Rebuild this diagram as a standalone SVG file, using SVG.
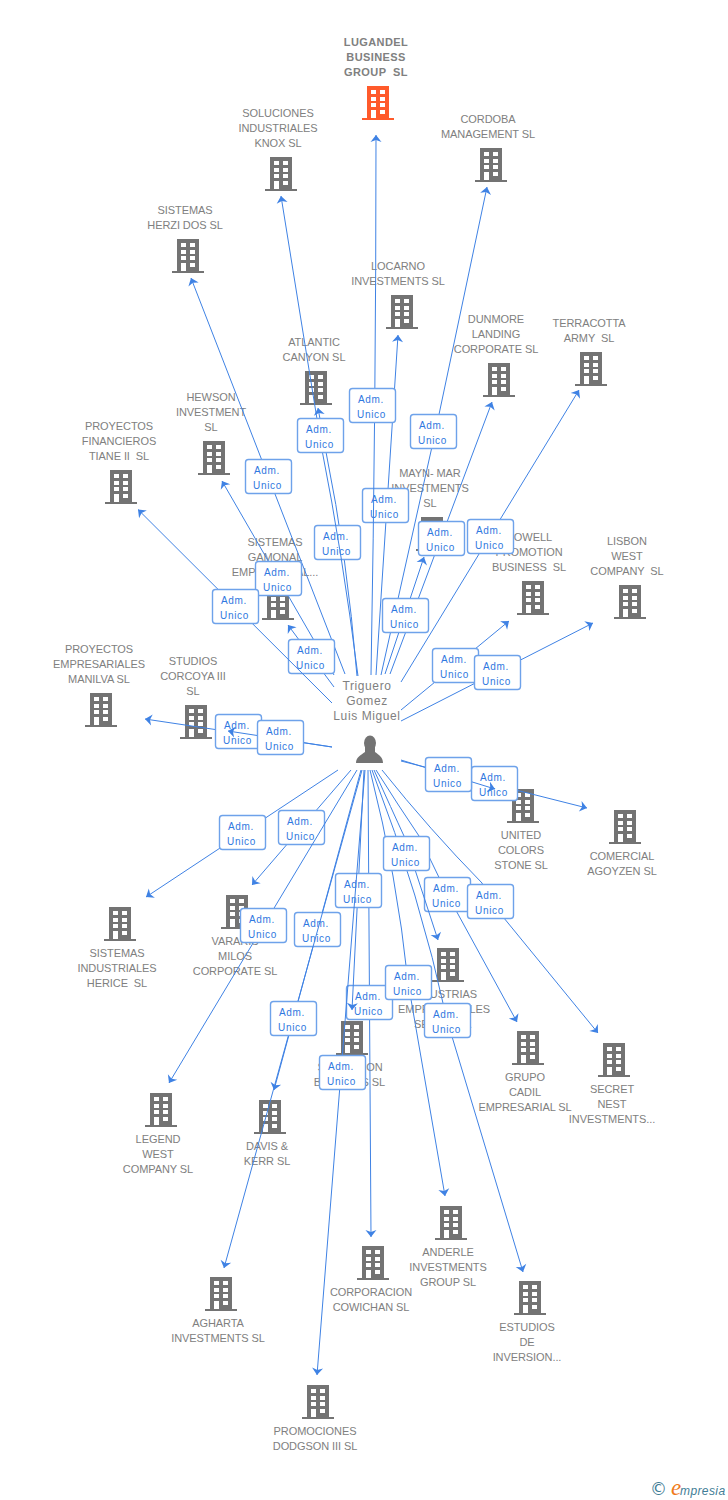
<svg xmlns="http://www.w3.org/2000/svg" width="728" height="1500" viewBox="0 0 728 1500">
<style>
text{font-family:"Liberation Sans",Arial,sans-serif;white-space:pre}
.n{font-size:11px;fill:#808080;text-anchor:middle;letter-spacing:-.08px}
.r{font-size:11px;font-weight:bold;fill:#808080;text-anchor:middle;letter-spacing:.4px}
.p{font-size:12px;fill:#808080;text-anchor:middle;letter-spacing:.6px}
.l{stroke:#3f82e4;stroke-width:1;fill:none;marker-end:url(#a)}
.lr{fill:#fff;stroke:#6ea2ea;stroke-width:1.4}
.lt{font-size:10px;fill:#2f78e0;text-anchor:middle;letter-spacing:.7px}
</style>
<defs>
<marker id="a" markerUnits="userSpaceOnUse" markerWidth="14" markerHeight="14" refX="9" refY="6.5" orient="auto" overflow="visible"><path d="M9 6.500 L2 1 L4 6.500 L2 12Z" fill="#3f82e4"/></marker>
<symbol id="b" overflow="visible"><path fill-rule="evenodd" d="M-11-17H11V15H16V17H-16V15H-11ZM-7-13V-9H-2V-13ZM2-13V-9H7V-13ZM-7-6V-2H-2V-6ZM2-6V-2H7V-6ZM-7 0V4H-2V0ZM2 0V4H7V0ZM-7 7V15H-2V7ZM2 7V11H7V7Z"/></symbol>
<g id="lb"><rect class="lr" x="-22.500" y="-16.500" width="46" height="34" rx="3"/><text class="lt" x="-1" y="-2.500">Adm.</text><text class="lt" x="-.5" y="12.500">Unico</text></g>
</defs>
<rect width="728" height="1500" fill="#fff"/>
<g id="nodes">
<g id="root" fill="#ff5a2b"><use href="#b" x="378" y="103"/><text class="r" x="376" y="46">LUGANDEL</text><text class="r" x="376" y="61">BUSINESS</text><text class="r" x="376" y="76">GROUP  SL</text></g>
<g id="person" fill="#737373"><ellipse cx="370" cy="743" rx="6" ry="7.500"/><path d="M356 763C356 757 361 755 365 752V747H375V752C379 755 383 757 383 763Z"/><text class="p" x="367" y="690">Triguero</text><text class="p" x="367" y="705">Gomez</text><text class="p" x="367" y="720">Luis Miguel</text></g>
<g fill="#737373">
<g id="n1"><use href="#b" x="281" y="174"/><text class="n" x="278" y="117">SOLUCIONES</text><text class="n" x="278" y="132">INDUSTRIALES</text><text class="n" x="278" y="147">KNOX SL</text></g>
<g id="n2"><use href="#b" x="491" y="165"/><text class="n" x="488" y="123">CORDOBA</text><text class="n" x="488" y="138">MANAGEMENT SL</text></g>
<g id="n3"><use href="#b" x="188" y="256"/><text class="n" x="185" y="214">SISTEMAS</text><text class="n" x="185" y="229">HERZI DOS SL</text></g>
<g id="n4"><use href="#b" x="402" y="312"/><text class="n" x="398" y="270">LOCARNO</text><text class="n" x="398" y="285">INVESTMENTS SL</text></g>
<g id="n5"><use href="#b" x="316" y="388"/><text class="n" x="314" y="346">ATLANTIC</text><text class="n" x="314" y="361">CANYON SL</text></g>
<g id="n6"><use href="#b" x="499" y="380"/><text class="n" x="496" y="323">DUNMORE</text><text class="n" x="496" y="338">LANDING</text><text class="n" x="496" y="353">CORPORATE SL</text></g>
<g id="n7"><use href="#b" x="591" y="369"/><text class="n" x="589" y="327">TERRACOTTA</text><text class="n" x="589" y="342">ARMY  SL</text></g>
<g id="n8"><use href="#b" x="214" y="458"/><text class="n" x="211" y="401">HEWSON</text><text class="n" x="211" y="416">INVESTMENT</text><text class="n" x="211" y="431">SL</text></g>
<g id="n9"><use href="#b" x="121" y="487"/><text class="n" x="119" y="430">PROYECTOS</text><text class="n" x="119" y="445">FINANCIEROS</text><text class="n" x="119" y="460">TIANE II  SL</text></g>
<g id="n10"><use href="#b" x="432" y="534"/><text class="n" x="430" y="477">MAYN- MAR</text><text class="n" x="430" y="492">INVESTMENTS</text><text class="n" x="430" y="507">SL</text></g>
<g id="n11"><use href="#b" x="278" y="603"/><text class="n" x="275" y="546">SISTEMAS</text><text class="n" x="275" y="561">GAMONAL</text><text class="n" x="275" y="576">EMPRESARIAL...</text></g>
<g id="n12"><use href="#b" x="533" y="598"/><text class="n" x="529" y="541">HOWELL</text><text class="n" x="529" y="556">PROMOTION</text><text class="n" x="529" y="571">BUSINESS  SL</text></g>
<g id="n13"><use href="#b" x="630" y="602"/><text class="n" x="627" y="545">LISBON</text><text class="n" x="627" y="560">WEST</text><text class="n" x="627" y="575">COMPANY  SL</text></g>
<g id="n14"><use href="#b" x="101" y="710"/><text class="n" x="99" y="653">PROYECTOS</text><text class="n" x="99" y="668">EMPRESARIALES</text><text class="n" x="99" y="683">MANILVA SL</text></g>
<g id="n15"><use href="#b" x="196" y="722"/><text class="n" x="193" y="665">STUDIOS</text><text class="n" x="193" y="680">CORCOYA III</text><text class="n" x="193" y="695">SL</text></g>
<g id="n16"><use href="#b" x="523" y="806"/><text class="n" x="521" y="839">UNITED</text><text class="n" x="521" y="854">COLORS</text><text class="n" x="521" y="869">STONE SL</text></g>
<g id="n17"><use href="#b" x="625" y="827"/><text class="n" x="622" y="860">COMERCIAL</text><text class="n" x="622" y="875">AGOYZEN SL</text></g>
<g id="n18"><use href="#b" x="120" y="924"/><text class="n" x="117" y="957">SISTEMAS</text><text class="n" x="117" y="972">INDUSTRIALES</text><text class="n" x="117" y="987">HERICE  SL</text></g>
<g id="n19"><use href="#b" x="237" y="912"/><text class="n" x="235" y="945">VARARIS</text><text class="n" x="235" y="960">MILOS</text><text class="n" x="235" y="975">CORPORATE SL</text></g>
<g id="n20"><use href="#b" x="448" y="965"/><text class="n" x="444" y="998">INDUSTRIAS</text><text class="n" x="444" y="1013">EMPRESARIALES</text><text class="n" x="443" y="1028">SEGOVIA...</text></g>
<g id="n21"><use href="#b" x="528" y="1048"/><text class="n" x="525" y="1081">GRUPO</text><text class="n" x="525" y="1096">CADIL</text><text class="n" x="525" y="1111">EMPRESARIAL SL</text></g>
<g id="n22"><use href="#b" x="614" y="1060"/><text class="n" x="612" y="1093">SECRET</text><text class="n" x="612" y="1108">NEST</text><text class="n" x="612" y="1123">INVESTMENTS...</text></g>
<g id="n23"><use href="#b" x="352" y="1038"/><text class="n" x="350" y="1071">SHELLYDON</text><text class="n" x="349.500" y="1086">BUSINESS SL</text></g>
<g id="n24"><use href="#b" x="161" y="1110"/><text class="n" x="158" y="1143">LEGEND</text><text class="n" x="158" y="1158">WEST</text><text class="n" x="158" y="1173">COMPANY SL</text></g>
<g id="n25"><use href="#b" x="270" y="1117"/><text class="n" x="267" y="1150">DAVIS &amp;</text><text class="n" x="267" y="1165">KERR SL</text></g>
<g id="n26"><use href="#b" x="451" y="1223"/><text class="n" x="448" y="1256">ANDERLE</text><text class="n" x="448" y="1271">INVESTMENTS</text><text class="n" x="448" y="1286">GROUP SL</text></g>
<g id="n27"><use href="#b" x="373" y="1263"/><text class="n" x="371" y="1296">CORPORACION</text><text class="n" x="371" y="1311">COWICHAN SL</text></g>
<g id="n28"><use href="#b" x="530" y="1298"/><text class="n" x="527" y="1331">ESTUDIOS</text><text class="n" x="527" y="1346">DE</text><text class="n" x="527" y="1361">INVERSION...</text></g>
<g id="n29"><use href="#b" x="221" y="1294"/><text class="n" x="218" y="1327">AGHARTA</text><text class="n" x="218" y="1342">INVESTMENTS SL</text></g>
<g id="n30"><use href="#b" x="318" y="1402"/><text class="n" x="315" y="1435">PROMOCIONES</text><text class="n" x="315" y="1450">DODGSON III SL</text></g>
</g>
</g>
<g id="connectors">
<line class="l" x1="376" y1="675" x2="398" y2="335"/><use href="#lb" x="385" y="505"/>
<path class="l" d="M371 675Q376 400 376 135"/><use href="#lb" x="372" y="405"/>
<path class="l" d="M357 676Q347 555 326 452L318 408"/><use href="#lb" x="337" y="542"/>
<path class="l" d="M358 676Q342 551 322 450L281 196"/><use href="#lb" x="320" y="435"/>
<path class="l" d="M381 675Q437 431 487 187"/><use href="#lb" x="433" y="431"/>
<line class="l" x1="345" y1="674" x2="191" y2="278"/><use href="#lb" x="268" y="476"/>
<line class="l" x1="390" y1="674" x2="492" y2="402"/><use href="#lb" x="441" y="538"/>
<line class="l" x1="401" y1="682" x2="579" y2="390"/><use href="#lb" x="490" y="536"/>
<line class="l" x1="385" y1="674" x2="424" y2="557"/><use href="#lb" x="405" y="615"/>
<line class="l" x1="334" y1="675" x2="222" y2="481"/><use href="#lb" x="278" y="578"/>
<line class="l" x1="334" y1="687" x2="288" y2="625"/><use href="#lb" x="311" y="656"/>
<line class="l" x1="332" y1="703" x2="138" y2="509.500"/><use href="#lb" x="235" y="606"/>
<line class="l" x1="401" y1="710" x2="509" y2="621"/><use href="#lb" x="455" y="665"/>
<line class="l" x1="401" y1="721" x2="593" y2="623"/><use href="#lb" x="497" y="672"/>
<line class="l" x1="332" y1="747" x2="145" y2="719"/><use href="#lb" x="238" y="731"/>
<line class="l" x1="332" y1="747" x2="228" y2="731"/><use href="#lb" x="280" y="737"/>
<line class="l" x1="401" y1="761" x2="587" y2="808"/><use href="#lb" x="494" y="783"/>
<line class="l" x1="401" y1="760" x2="495" y2="789"/><use href="#lb" x="448" y="774"/>
<line class="l" x1="338" y1="770" x2="146" y2="897"/><use href="#lb" x="242" y="832"/>
<line class="l" x1="351" y1="770" x2="252" y2="885"/><use href="#lb" x="301" y="827"/>
<line class="l" x1="357" y1="770" x2="169" y2="1083"/><use href="#lb" x="263" y="925"/>
<line class="l" x1="361" y1="770" x2="274" y2="1090"/><use href="#lb" x="317" y="929"/>
<line class="l" x1="362" y1="770" x2="224" y2="1268"/><use href="#lb" x="293" y="1018"/>
<line class="l" x1="368" y1="770" x2="371" y2="1237"/><use href="#lb" x="369" y="1002"/>
<line class="l" x1="364" y1="770" x2="352" y2="1010"/><use href="#lb" x="358" y="890"/>
<line class="l" x1="365" y1="770" x2="317" y2="1375"/><use href="#lb" x="342" y="1072"/>
<path class="l" d="M376 770Q398 805 419 836L447 894L517 1022"/><use href="#lb" x="447" y="894"/>
<path class="l" d="M382 770Q430 830 482 883L490 901L598 1033"/><use href="#lb" x="490" y="901"/>
<path class="l" d="M370 770Q397 876 408 982L445 1196"/><use href="#lb" x="408" y="982"/>
<path class="l" d="M372 770Q420 895 447 1020L523 1272"/><use href="#lb" x="447" y="1020"/>
<path class="l" d="M374 770Q392 810 404 836L438 940"/><use href="#lb" x="406" y="853"/>
</g>
<g id="logo"><text x="650" y="1495" font-size="17" fill="#3f7d96" style="font-family:'DejaVu Sans',sans-serif">©</text><text x="671" y="1495" font-size="23" font-style="italic" fill="#f07a1a" style="font-family:'Liberation Serif',serif">e</text><text x="680" y="1495" font-size="12" font-style="italic" fill="#3f7d96" letter-spacing=".4">mpresia</text></g>
</svg>
